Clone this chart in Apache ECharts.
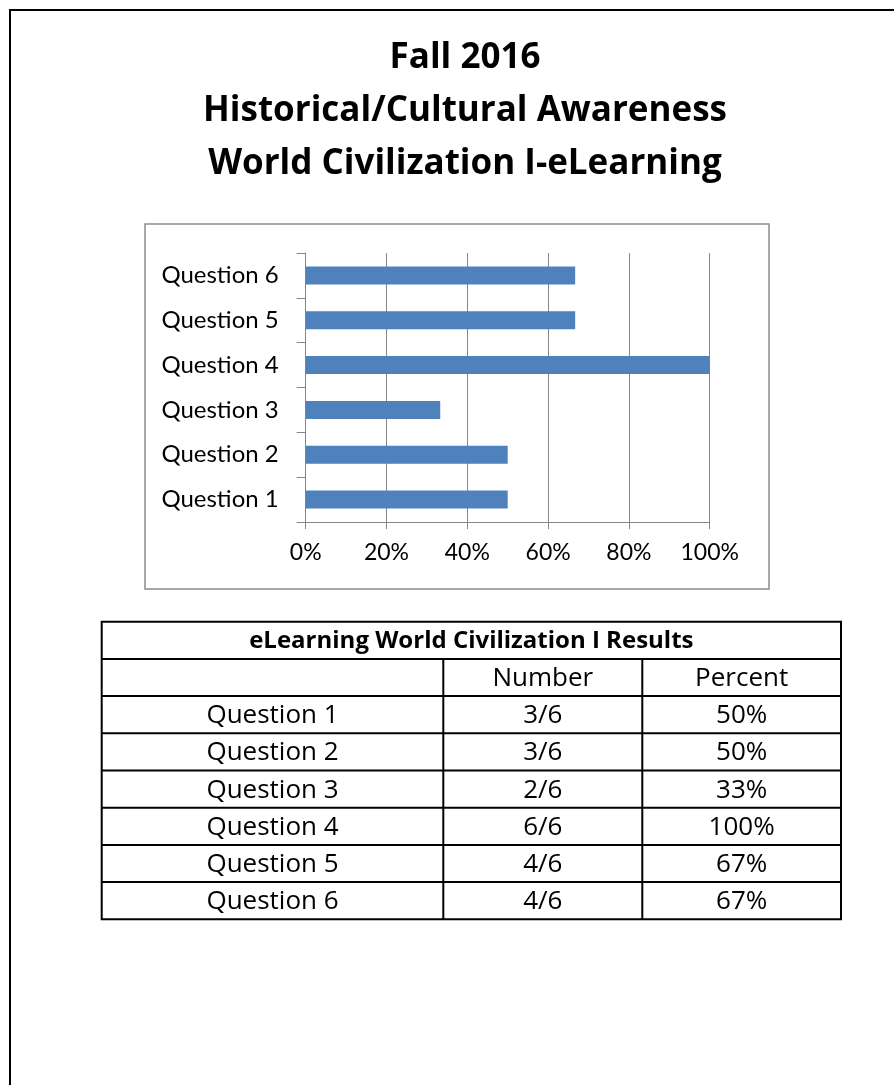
<!DOCTYPE html>
<html>
<head>
<meta charset="utf-8">
<script src="https://cdn.jsdelivr.net/npm/echarts@6/dist/echarts.min.js"></script>
<style>
  html, body { margin: 0; padding: 0; background: #fff; }
  #chart { width: 894px; height: 1085px; }
</style>
</head>
<body>
<div id="chart"></div>
<script>
// data
const titleLines = ['Fall 2016', 'Historical/Cultural Awareness', 'World Civilization I-eLearning']
const categories = ['Question 1', 'Question 2', 'Question 3', 'Question 4', 'Question 5', 'Question 6']
const barValues = [50, 50, 33.3, 100, 66.7, 66.7] // percent
const numberLabels = ['3/6', '3/6', '2/6', '6/6', '4/6', '4/6']
const percentLabels = ['50%', '50%', '33%', '100%', '67%', '67%']
const tableTitle = 'eLearning World Civilization I Results'
const tableHeads = ['', 'Number', 'Percent']

const myChart = echarts.init(document.getElementById('chart'))

const axisGray = '#868686'
const graphics = []

// page frame (left + top edge)
graphics.push({
  type: 'polyline',
  shape: { points: [[10, 1085], [10, 10], [894, 10]] },
  style: { stroke: '#000', lineWidth: 2, fill: null }
})

// title lines
const titleY = [58, 111, 164]
titleLines.forEach((t, i) => {
  graphics.push({
    type: 'text',
    x: 465,
    y: titleY[i],
    style: {
      text: t,
      font: 'bold 35px "Open Sans"',
      fill: '#000',
      align: 'center',
      verticalAlign: 'middle'
    }
  })
})

// chart area border
graphics.push({
  type: 'rect',
  shape: { x: 145, y: 224, width: 624, height: 365 },
  style: { stroke: '#8c8c8c', lineWidth: 1.5, fill: null },
  z: -1
})

// table below the chart
const tblLeft = 101.7
const tblRight = 841
const tblTop = 621.7
const rowH = 37.2
const colX = [tblLeft, 443.3, 642.3, tblRight]
const nRows = categories.length + 2
const tblBottom = tblTop + rowH * nRows

graphics.push({
  type: 'rect',
  shape: { x: tblLeft, y: tblTop, width: tblRight - tblLeft, height: tblBottom - tblTop },
  style: { stroke: '#000', lineWidth: 2, fill: null }
})
for (let r = 1; r < nRows; r++) {
  const y = tblTop + rowH * r
  graphics.push({
    type: 'line',
    shape: { x1: tblLeft, y1: y, x2: tblRight, y2: y },
    style: { stroke: '#000', lineWidth: 2 }
  })
}
;[1, 2].forEach(c => {
  graphics.push({
    type: 'line',
    shape: { x1: colX[c], y1: tblTop + rowH, x2: colX[c], y2: tblBottom },
    style: { stroke: '#000', lineWidth: 2 }
  })
})

function cellText(text, col, row, bold) {
  const cx = col < 0 ? (tblLeft + tblRight) / 2 : (colX[col] + colX[col + 1]) / 2
  graphics.push({
    type: 'text',
    x: cx,
    y: tblTop + rowH * row + rowH / 2 + 1,
    style: {
      text: text,
      font: (bold ? 'bold 24px' : '26px') + ' "Open Sans"',
      fill: '#000',
      align: 'center',
      verticalAlign: 'middle'
    }
  })
}
cellText(tableTitle, -1, 0, true)
tableHeads.forEach((h, c) => cellText(h, c, 1, false))
categories.forEach((q, i) => {
  cellText(q, 0, i + 2)
  cellText(numberLabels[i], 1, i + 2)
  cellText(percentLabels[i], 2, i + 2)
})

const option = {
  animation: false,
  backgroundColor: '#fff',
  grid: {
    left: 305.7,
    right: 894 - 709.7,
    top: 253,
    bottom: 1085 - 522
  },
  xAxis: {
    type: 'value',
    min: 0,
    max: 100,
    interval: 20,
    axisLine: { show: true, lineStyle: { color: axisGray, width: 1 } },
    axisTick: { show: true, length: 7, lineStyle: { color: axisGray } },
    splitLine: { show: true, lineStyle: { color: axisGray, width: 1 } },
    axisLabel: {
      margin: 19,
      color: '#000',
      fontFamily: 'Lato',
      fontSize: 23,
      formatter: '{value}%'
    }
  },
  yAxis: {
    type: 'category',
    data: categories,
    axisLine: { show: true, lineStyle: { color: axisGray, width: 1 } },
    axisTick: { show: true, length: 9, lineStyle: { color: axisGray } },
    splitLine: { show: false },
    axisLabel: {
      margin: 27,
      color: '#000',
      fontFamily: 'Lato',
      fontSize: 24
    }
  },
  series: [
    {
      type: 'bar',
      data: barValues,
      barWidth: 18,
      itemStyle: { color: '#4F81BD' }
    }
  ],
  graphic: graphics
}

myChart.setOption(option)
</script>
</body>
</html>
